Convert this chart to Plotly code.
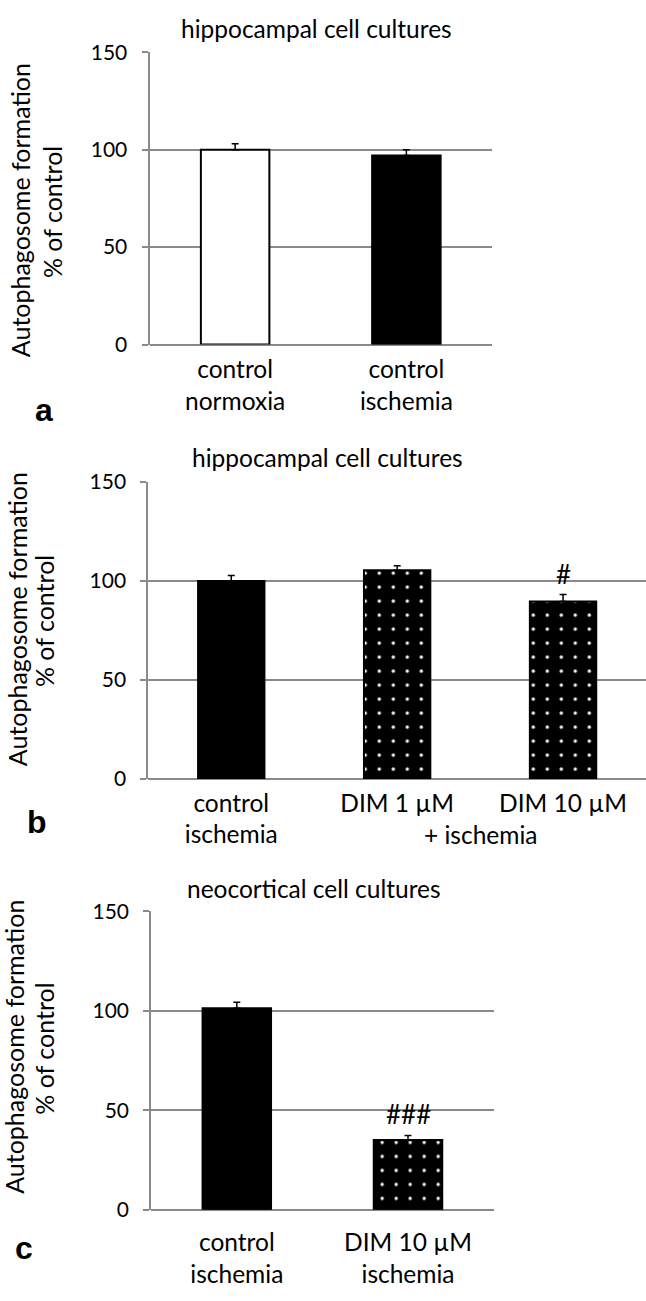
import plotly.graph_objects as go

# ------------ data
cats_a = ["control<br>normoxia", "control<br>ischemia"]
vals_a = [100, 97]
err_a = [3, 3]

cats_b = ["control<br>ischemia", "DIM 1 µM", "DIM 10 µM"]
vals_b = [100, 105.5, 89.7]
err_b = [2.8, 2.3, 3.5]
sig_b = ["", "", "#"]

cats_c = ["control<br>ischemia", "DIM 10 µM<br>ischemia"]
vals_c = [101.3, 35.1]
err_c = [3, 2.3]
sig_c = ["", "###"]

y_ticks = [0, 50, 100, 150]

# ------------ page / styling
W, H = 646, 1301
FONT = "Lato"
GRID = "#8a8a8a"
TXT = "black"


def px_x(v):
    return v / W


def px_y(v):
    return 1 - v / H


def bar_trace(cats, vals, errs, fills, ax):
    """fills: 'white', 'black' or 'dots' for every bar"""
    colors = ["white" if f == "white" else "black" for f in fills]
    shapes = ["." if f == "dots" else "" for f in fills]
    return go.Bar(
        x=cats, y=vals,
        xaxis="x" + ax, yaxis="y" + ax,
        marker=dict(color=colors,
                    line=dict(color="black", width=2),
                    pattern=dict(shape=shapes, fillmode="overlay",
                                 fgcolor="white", fgopacity=1,
                                 size=14, solidity=0.045)),
        error_y=dict(type="data", symmetric=False, array=errs,
                     arrayminus=[0] * len(errs),
                     color="black", thickness=1.5, width=3.5),
        showlegend=False,
    )


fig = go.Figure()
fig.add_trace(bar_trace(cats_a, vals_a, err_a, ["white", "black"], ""))
fig.add_trace(bar_trace(cats_b, vals_b, err_b, ["black", "dots", "dots"], "2"))
fig.add_trace(bar_trace(cats_c, vals_c, err_c, ["black", "dots"], "3"))

# plot areas in pixels: left, right, top(150), bottom(0)
boxes = {"": (149.5, 492, 39, 337),
         "2": (148.3, 646, 477.3, 780),
         "3": (151.2, 493.6, 915, 1219.3)}
standoff = {"": 8, "2": 7, "3": 16}

layout = dict(width=W, height=H, margin=dict(l=0, r=0, t=0, b=0),
              plot_bgcolor="white", paper_bgcolor="white",
              bargap=0.6, font=dict(family=FONT, color=TXT, size=24))

for ax, (l, r, t, b) in boxes.items():
    layout["xaxis" + ax] = dict(
        domain=[px_x(l), px_x(r)], anchor="y" + ax, type="category",
        showline=False, ticks="", showgrid=False, zeroline=False,
        tickfont=dict(family=FONT, size=24.5, color=TXT),
        ticklabelstandoff=standoff[ax])
    layout["yaxis" + ax] = dict(
        domain=[px_y(b), px_y(t)], anchor="x" + ax, range=[0, 150],
        tickvals=y_ticks, ticks="outside", ticklen=6, tickwidth=2,
        tickcolor=GRID, showline=True, linecolor=GRID, linewidth=2,
        showgrid=True, gridcolor=GRID, gridwidth=2,
        zeroline=True, zerolinecolor=GRID, zerolinewidth=2,
        tickfont=dict(family=FONT, size=21, color=TXT),
        ticklabelstandoff=10)

fig.update_layout(**layout)


def note(text, x, y, size=24, angle=0, bold=False, family=FONT):
    if bold:
        text = "<b>" + text + "</b>"
    fig.add_annotation(text=text, x=px_x(x), y=px_y(y),
                       xref="paper", yref="paper", showarrow=False,
                       textangle=angle, xanchor="center", yanchor="middle",
                       font=dict(family=family, size=size, color=TXT))


# panel titles
note("hippocampal cell cultures", 316, 15, size=24.5)
note("hippocampal cell cultures", 327.6, 452, size=24.5)
note("neocortical cell cultures", 314, 892, size=24.5)

# y-axis titles (two rotated lines each)
for l1x, l2x, yc in [(20, 52, 200), (17, 44, 617), (14, 44, 1053)]:
    note("Autophagosome formation", l1x, yc, size=25, angle=-90)
    note("% of control", l2x, yc + 2, size=25, angle=-90)

# panel letters
note("a", 44, 404, size=32, bold=True, family="Liberation Sans")
note("b", 37, 824, size=32, bold=True, family="Liberation Sans")
note("c", 24, 1258, size=32, bold=True, family="Liberation Sans")

# shared label under the two DIM bars of panel b
fig.add_annotation(text="+ ischemia", x=1.5, xref="x2", y=px_y(837),
                   yref="paper", showarrow=False, xanchor="center",
                   yanchor="middle", font=dict(family=FONT, size=24.5, color=TXT))

# significance marks above the error bars
for cats, vals, errs, sig, ax in [(cats_b, vals_b, err_b, sig_b, "2"),
                                  (cats_c, vals_c, err_c, sig_c, "3")]:
    for c, v, e, s in zip(cats, vals, errs, sig):
        if s:
            fig.add_annotation(text=s, x=c, y=v + e, xref="x" + ax,
                               yref="y" + ax, showarrow=False,
                               yanchor="bottom", yshift=3,
                               font=dict(family=FONT, size=26, color=TXT))

# the page's default body margin would shift the whole chart by 8 px
fig.write_html("out.html", config={"displayModeBar": False},
               post_script="document.body.style.margin = '0';")
